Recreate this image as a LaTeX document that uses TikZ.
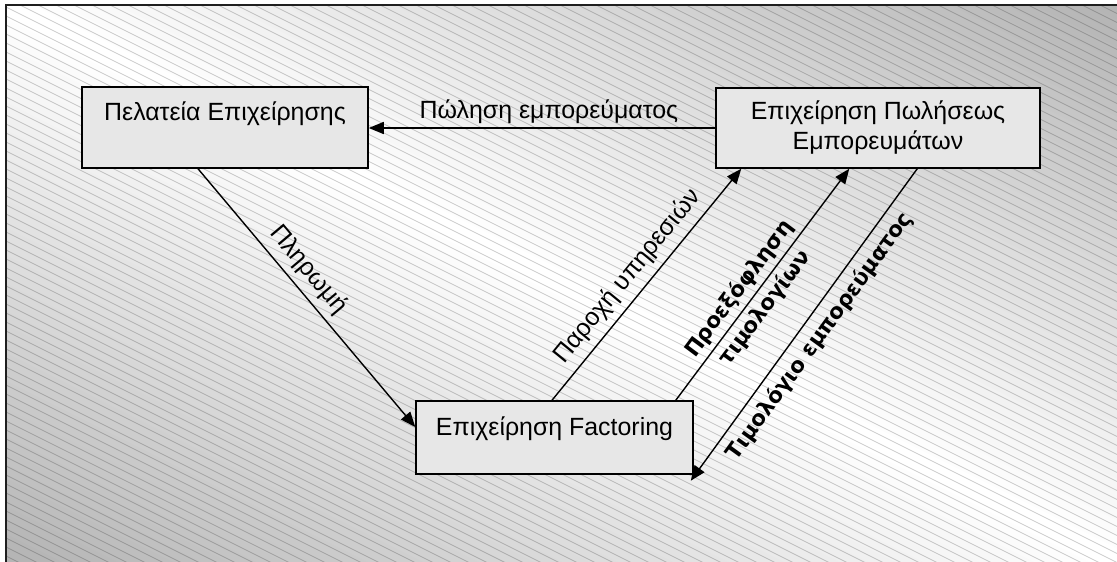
\documentclass[tikz,border=0pt]{standalone}
\usepackage{fontspec}
\setmainfont{Liberation Sans}
\newfontfamily\lblfont{DejaVu Sans}
\usetikzlibrary{arrows.meta,calc}

\definecolor{boxgray}{gray}{0.906}
\definecolor{framec}{gray}{0.12}

\tikzset{
  box/.style={draw=black, line width=1.5bp, fill=boxgray, inner sep=0pt,
    font=\fontsize{25}{30}\selectfont},
  flow/.style={line width=1.4bp, -{Triangle[length=15bp,width=12bp]}},
  backflow/.style={line width=1.4bp, {Triangle[length=15bp,width=12bp]}-},
  lbl/.style={font=\fontsize{25}{30}\selectfont},
  blbl/.style={font=\lblfont\bfseries\fontsize{21.5}{32}\selectfont, align=center},
  hatch/.style={black, opacity=0.2, line width=0.8bp}
}

\begin{document}
\begin{tikzpicture}[x=1bp, y=-1bp]
\useasboundingbox (0,0) rectangle (1117,562);

% background panel: diagonal grey gradient, white along the main diagonal
\def\Xo{6}\def\Yo{5}\def\W{1111}\def\H{557}
\begin{scope}
  \clip (\Xo,\Yo) rectangle (1117,562);
  \fill[white] (\Xo,\Yo) rectangle (1117,562);
  \foreach \k in {1,...,40}{
    \pgfmathsetmacro{\ua}{\W/40*\k}
    \pgfmathsetmacro{\gl}{1-0.30/40*\k}
    \definecolor{bandc}{gray}{\gl}
    \fill[bandc] (\Xo+\ua,\Yo) -- (\Xo+3*\W,\Yo) -- (\Xo+3*\W,\Yo+\H)
                 -- (\Xo+\ua+\W,\Yo+\H) -- cycle;
    \fill[bandc] (\Xo-\ua,\Yo) -- (\Xo-3*\W,\Yo) -- (\Xo-3*\W,\Yo+\H)
                 -- (\Xo-\ua+\W,\Yo+\H) -- cycle;
  }
  % fine downward hatching
  \foreach \c in {-560,-551,...,565}{
    \draw[hatch] (\Xo,\c) -- (\Xo+\W,\c+555.5);
  }
\end{scope}
\draw[framec, line width=2bp] (\Xo,562) -- (\Xo,\Yo) -- (1117,\Yo);

% the three parties
\node[box, minimum width=286bp, text height=34bp, text depth=47bp]
  (client) at (225,127.5) {Πελατεία Επιχείρησης};
\node[box, minimum width=324bp, minimum height=80bp, align=center]
  (seller) at (878,128) {Επιχείρηση Πωλήσεως\\Εμπορευμάτων};
\node[box, minimum width=277bp, text height=34bp, text depth=39bp]
  (factor) at (554.5,437.5) {Επιχείρηση Factoring};

% flows between them
\draw[flow] (seller.west) -- (seller.west -| client.east)
  node[lbl, pos=0.48, above, inner sep=4bp] (lsale) {Πώληση εμπορεύματος};

\draw[flow] ([xshift=-27bp]client.south) -- ([yshift=10.5bp]factor.west)
  node[lbl, pos=0.44, sloped, above, inner sep=7bp] (lpay) {Πληρωμή};

\draw[flow] ([xshift=-2.5bp]factor.north) -- ([xshift=26bp]seller.south west)
  node[lbl, pos=0.48, sloped, above, inner sep=7bp] (lserv) {Παροχή υπηρεσιών};

\draw[flow] ([xshift=-18bp]factor.north east) -- ([xshift=134bp]seller.south west)
  node[blbl, pos=0.44, sloped] (ldisc) {Προεξόφληση\\τιμολογίων};

\draw[backflow] ([xshift=-3bp,yshift=-6bp]factor.south east) -- ([xshift=202bp]seller.south west)
  node[blbl, pos=0.5, sloped, below, inner sep=8bp] (linv) {Τιμολόγιο εμπορεύματος};
\end{tikzpicture}
\end{document}
